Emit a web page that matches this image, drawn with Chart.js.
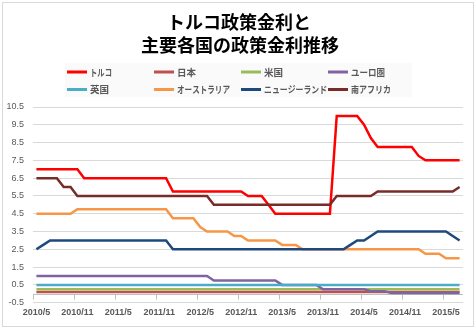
<!DOCTYPE html>
<html>
<head>
<meta charset="utf-8">
<script src="https://cdn.jsdelivr.net/npm/chart.js@4"></script>
<style>
html,body{margin:0;padding:0;background:#fff;}
#wrap{position:relative;width:476px;height:331px;}
</style>
</head>
<body>
<div id="wrap"><canvas id="c" width="476" height="331"></canvas></div>
<script>
const months = [
"2010/5","2010/6","2010/7","2010/8","2010/9","2010/10","2010/11","2010/12",
"2011/1","2011/2","2011/3","2011/4","2011/5","2011/6","2011/7","2011/8","2011/9","2011/10","2011/11","2011/12",
"2012/1","2012/2","2012/3","2012/4","2012/5","2012/6","2012/7","2012/8","2012/9","2012/10","2012/11","2012/12",
"2013/1","2013/2","2013/3","2013/4","2013/5","2013/6","2013/7","2013/8","2013/9","2013/10","2013/11","2013/12",
"2014/1","2014/2","2014/3","2014/4","2014/5","2014/6","2014/7","2014/8","2014/9","2014/10","2014/11","2014/12",
"2015/1","2015/2","2015/3","2015/4","2015/5","2015/6","2015/7"
];

const titleLines = ["トルコ政策金利と", "主要各国の政策金利推移"];
const seriesNames = ["トルコ","日本","米国","ユーロ圏","英国","オーストラリア","ニュージーランド","南アフリカ"];

const turkey = [
7,7,7,7,7,7,7,
6.5,6.5,6.5,6.5,6.5,6.5,6.5,6.5,6.5,6.5,6.5,6.5,6.5,
5.75,5.75,5.75,5.75,5.75,5.75,5.75,5.75,5.75,5.75,5.75,
5.5,5.5,5.5,
5,
4.5,4.5,4.5,4.5,4.5,4.5,4.5,4.5,4.5,
10,10,10,10,
9.5,
8.75,
8.25,8.25,8.25,8.25,8.25,8.25,
7.75,
7.5,7.5,7.5,7.5,7.5,7.5
];
const japan = [
0.1,0.1,0.1,0.1,0.1,0.1,0.1,0.1,0.1,0.1,0.1,0.1,0.1,0.1,0.1,0.1,0.1,0.1,0.1,0.1,0.1,
0.1,0.1,0.1,0.1,0.1,0.1,0.1,0.1,0.1,0.1,0.1,0.1,0.1,0.1,0.1,0.1,0.1,0.1,0.1,0.1,0.1,
0.1,0.1,0.1,0.1,0.1,0.1,0.1,0.1,0.1,0.1,0.1,0.1,0.1,0.1,0.1,0.1,0.1,0.1,0.1,0.1,0.1
];
const usa = [
0.25,0.25,0.25,0.25,0.25,0.25,0.25,0.25,0.25,0.25,0.25,0.25,0.25,0.25,0.25,0.25,0.25,0.25,0.25,0.25,0.25,
0.25,0.25,0.25,0.25,0.25,0.25,0.25,0.25,0.25,0.25,0.25,0.25,0.25,0.25,0.25,0.25,0.25,0.25,0.25,0.25,0.25,
0.25,0.25,0.25,0.25,0.25,0.25,0.25,0.25,0.25,0.25,0.25,0.25,0.25,0.25,0.25,0.25,0.25,0.25,0.25,0.25,0.25
];
const euro = [
1,1,1,1,1,1,1,1,1,1,1,1,1,1,1,1,1,1,1,1,1,1,1,1,1,1,
0.75,0.75,0.75,0.75,0.75,0.75,0.75,0.75,0.75,0.75,
0.5,0.5,0.5,0.5,0.5,0.5,
0.25,0.25,0.25,0.25,0.25,0.25,0.25,
0.15,0.15,0.15,
0.05,0.05,0.05,0.05,0.05,0.05,0.05,0.05,0.05,0.05,0.05
];
const uk = [
0.5,0.5,0.5,0.5,0.5,0.5,0.5,0.5,0.5,0.5,0.5,0.5,0.5,0.5,0.5,0.5,0.5,0.5,0.5,0.5,0.5,
0.5,0.5,0.5,0.5,0.5,0.5,0.5,0.5,0.5,0.5,0.5,0.5,0.5,0.5,0.5,0.5,0.5,0.5,0.5,0.5,0.5,
0.5,0.5,0.5,0.5,0.5,0.5,0.5,0.5,0.5,0.5,0.5,0.5,0.5,0.5,0.5,0.5,0.5,0.5,0.5,0.5,0.5
];
const australia = [
4.5,4.5,4.5,4.5,4.5,4.5,
4.75,4.75,4.75,4.75,4.75,4.75,4.75,4.75,4.75,4.75,4.75,4.75,4.75,4.75,
4.25,4.25,4.25,4.25,
3.75,
3.5,3.5,3.5,3.5,
3.25,3.25,
3,3,3,3,3,
2.75,2.75,2.75,
2.5,2.5,2.5,2.5,2.5,2.5,2.5,2.5,2.5,2.5,2.5,2.5,2.5,2.5,2.5,2.5,2.5,2.5,
2.25,2.25,2.25,
2,2,2
];
const newZealand = [
2.5,
2.75,
3,3,3,3,3,3,3,3,3,3,3,3,3,3,3,3,3,3,
2.5,2.5,2.5,2.5,2.5,2.5,2.5,2.5,2.5,2.5,2.5,2.5,2.5,2.5,2.5,2.5,2.5,2.5,2.5,2.5,2.5,2.5,2.5,2.5,2.5,2.5,
2.75,
3,3,
3.25,
3.5,3.5,3.5,3.5,3.5,3.5,3.5,3.5,3.5,3.5,3.5,
3.25,
3
];
const southAfrica = [
6.5,6.5,6.5,6.5,
6,6,
5.5,5.5,5.5,5.5,5.5,5.5,5.5,5.5,5.5,5.5,5.5,5.5,5.5,5.5,5.5,5.5,5.5,5.5,5.5,5.5,
5,5,5,5,5,5,5,5,5,5,5,5,5,5,5,5,5,5,
5.5,5.5,5.5,5.5,5.5,5.5,
5.75,5.75,5.75,5.75,5.75,5.75,5.75,5.75,5.75,5.75,5.75,5.75,
6
];

const yMin = -0.5, yMax = 10.5, yStep = 1;
const labelEvery = 6;

const colors = ["#FF0000","#C0504D","#9BBB59","#8064A2","#4BACC6","#F79646","#1F497D","#772C2A"];
const legendTextMaxW = [22, 19, 19, 34, 19, 53, 63, 40];
const allSeries = [turkey, japan, usa, euro, uk, australia, newZealand, southAfrica];

const datasets = allSeries.map((d, i) => ({
  label: seriesNames[i],
  data: d,
  borderColor: colors[i],
  backgroundColor: colors[i],
  borderWidth: 2.5,
  pointRadius: 0,
  tension: 0,
  fill: false,
  order: -i
}));

const framePlugin = {
  id: 'frame',
  beforeDraw(chart) {
    const ctx = chart.ctx;
    ctx.save();
    ctx.fillStyle = '#ffffff';
    ctx.fillRect(0, 0, chart.width, chart.height);
    ctx.strokeStyle = '#D9D9D9';
    ctx.lineWidth = 1;
    ctx.strokeRect(2.5, 2.5, 471, 324);
    ctx.fillStyle = '#FAFAFA';
    ctx.fillRect(65, 63, 347, 34);
    ctx.restore();
  },
  beforeDatasetsDraw(chart) {
    const ctx = chart.ctx;
    const ys = chart.scales.y;
    const y0 = Math.round(ys.getPixelForValue(0)) + 0.5;
    const area = chart.chartArea;
    const n = chart.data.labels.length;
    const w = (area.right - area.left) / n;
    ctx.save();
    ctx.strokeStyle = '#BFBFBF';
    ctx.lineWidth = 1;
    ctx.beginPath();
    ctx.moveTo(area.left, y0);
    ctx.lineTo(area.right, y0);
    for (let k = 0; k < n; k += labelEvery) {
      const x = Math.round(area.left + k * w) + 0.5;
      ctx.moveTo(x, y0);
      ctx.lineTo(x, y0 + 5);
    }
    ctx.stroke();
    ctx.restore();
  },
  afterDraw(chart) {
    const ctx = chart.ctx;
    ctx.save();
    // title
    ctx.fillStyle = '#000000';
    ctx.font = 'bold 18px "Noto Sans CJK JP"';
    ctx.textAlign = 'center';
    ctx.textBaseline = 'middle';
    ctx.fillText(titleLines[0], 239, 22);
    ctx.fillText(titleLines[1], 240, 45.5);
    // legend
    const colX = [67, 154, 241, 328];
    const rowY = [72, 89.5];
    ctx.font = 'bold 9.5px "Noto Sans CJK JP"';
    ctx.textAlign = 'left';
    chart.data.datasets.forEach((ds, i) => {
      const x = colX[i % 4], y = rowY[Math.floor(i / 4)];
      ctx.strokeStyle = ds.borderColor;
      ctx.lineWidth = 3;
      ctx.beginPath();
      ctx.moveTo(x, y);
      ctx.lineTo(x + 20, y);
      ctx.stroke();
      ctx.fillStyle = '#595959';
      ctx.fillText(ds.label, x + 23, y, legendTextMaxW[i]);
    });
    ctx.restore();
  }
};

new Chart(document.getElementById('c'), {
  type: 'line',
  data: { labels: months, datasets: datasets },
  options: {
    responsive: false,
    animation: false,
    layout: { padding: { left: 0, right: 13, top: 107, bottom: 0 } },
    plugins: {
      legend: { display: false },
      tooltip: { enabled: false },
      title: { display: false }
    },
    scales: {
      x: {
        type: 'category',
        offset: true,
        grid: { display: false, drawTicks: false },
        border: { display: false },
        ticks: {
          autoSkip: false,
          maxRotation: 0,
          minRotation: 0,
          padding: 4,
          color: '#595959',
          font: { family: '"Liberation Sans"', size: 9, weight: 'bold' },
          callback: function(v, i) { return i % labelEvery === 0 ? months[i] : null; }
        },
        afterFit(scale) { scale.height = 28.3; }
      },
      y: {
        min: yMin,
        max: yMax,
        grid: { color: '#D9D9D9', lineWidth: 1, drawTicks: false },
        border: { display: false },
        ticks: {
          stepSize: yStep,
          padding: 9,
          color: '#595959',
          font: { family: '"Liberation Sans"', size: 9 },
          callback: v => v.toFixed(1)
        },
        afterFit(scale) { scale.width = 33; }
      }
    }
  },
  plugins: [framePlugin]
});
</script>
</body>
</html>
